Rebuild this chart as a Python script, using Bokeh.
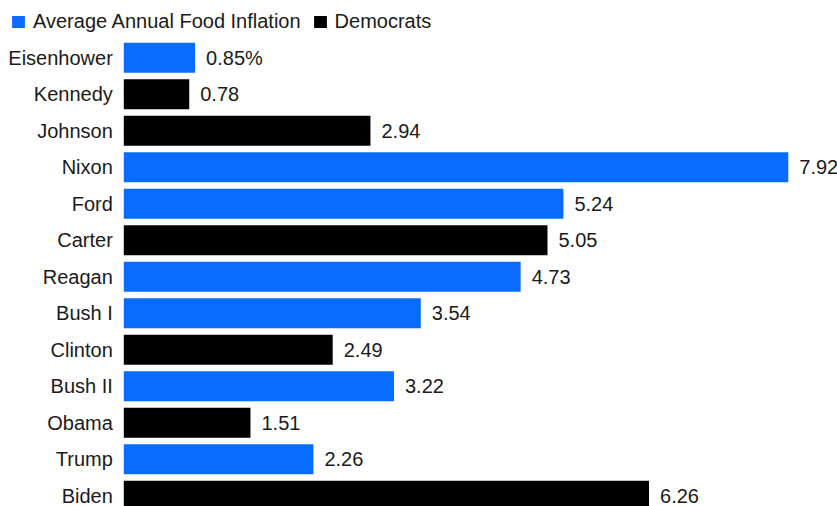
from bokeh.plotting import figure
from bokeh.models import ColumnDataSource, Range1d, Legend, LegendItem
from bokeh.core.properties import value
from bokeh.embed import file_html
from bokeh.resources import INLINE

presidents = ["Eisenhower", "Kennedy", "Johnson", "Nixon", "Ford", "Carter", "Reagan",
              "Bush I", "Clinton", "Bush II", "Obama", "Trump", "Biden"]
inflation = [0.85, 0.78, 2.94, 7.92, 5.24, 5.05, 4.73, 3.54, 2.49, 3.22, 1.51, 2.26, 6.26]
party = ["R", "D", "D", "R", "R", "D", "R", "R", "D", "R", "D", "R", "D"]
value_labels = ["0.85%", "0.78", "2.94", "7.92", "5.24", "5.05", "4.73",
                "3.54", "2.49", "3.22", "1.51", "2.26", "6.26"]
series_names = ["Average Annual Food Inflation", "Democrats"]

BLUE = "#0a6cff"
BLACK = "#000000"
FONT = "Liberation Sans"
FS = "20px"

idx = list(range(len(presidents)))
rep = [i for i in idx if party[i] == "R"]
dem = [i for i in idx if party[i] == "D"]

src_r = ColumnDataSource(dict(y=rep, v=[inflation[i] for i in rep]))
src_d = ColumnDataSource(dict(y=dem, v=[inflation[i] for i in dem]))
src_all = ColumnDataSource(dict(y=idx, v=inflation, name=presidents, lab=value_labels))

p = figure(width=837, height=506, output_backend="svg", toolbar_location=None,
           x_range=Range1d(-1.4696, 8.5066), y_range=Range1d(12.2965, -1.5703),
           min_border=0, outline_line_color=None)
p.axis.visible = False
p.grid.visible = False
p.background_fill_color = "white"
p.border_fill_color = "white"

r1 = p.hbar(y="y", right="v", left=0, height=0.82, source=src_r,
            fill_color=BLUE, line_color=None)
r2 = p.hbar(y="y", right="v", left=0, height=0.82, source=src_d,
            fill_color=BLACK, line_color=None)

p.text(x=0, y="y", text="name", source=src_all, x_offset=-11,
       text_align="right", text_baseline="middle", text_font=value(FONT),
       text_font_size=FS, text_color="#1a1a1a")
p.text(x="v", y="y", text="lab", source=src_all, x_offset=11,
       text_align="left", text_baseline="middle", text_font=value(FONT),
       text_font_size=FS, text_color="#1a1a1a")

legend = Legend(items=[LegendItem(label=series_names[0], renderers=[r1]),
                       LegendItem(label=series_names[1], renderers=[r2])],
                orientation="horizontal", location="top_left",
                glyph_width=16, glyph_height=15, label_standoff=7, spacing=11,
                padding=0, margin=10, border_line_color=None,
                background_fill_alpha=0,
                label_text_font=FONT, label_text_font_size=FS,
                label_text_color="#1a1a1a")
p.add_layout(legend)

open("out.html", "w").write(file_html(p, INLINE))
